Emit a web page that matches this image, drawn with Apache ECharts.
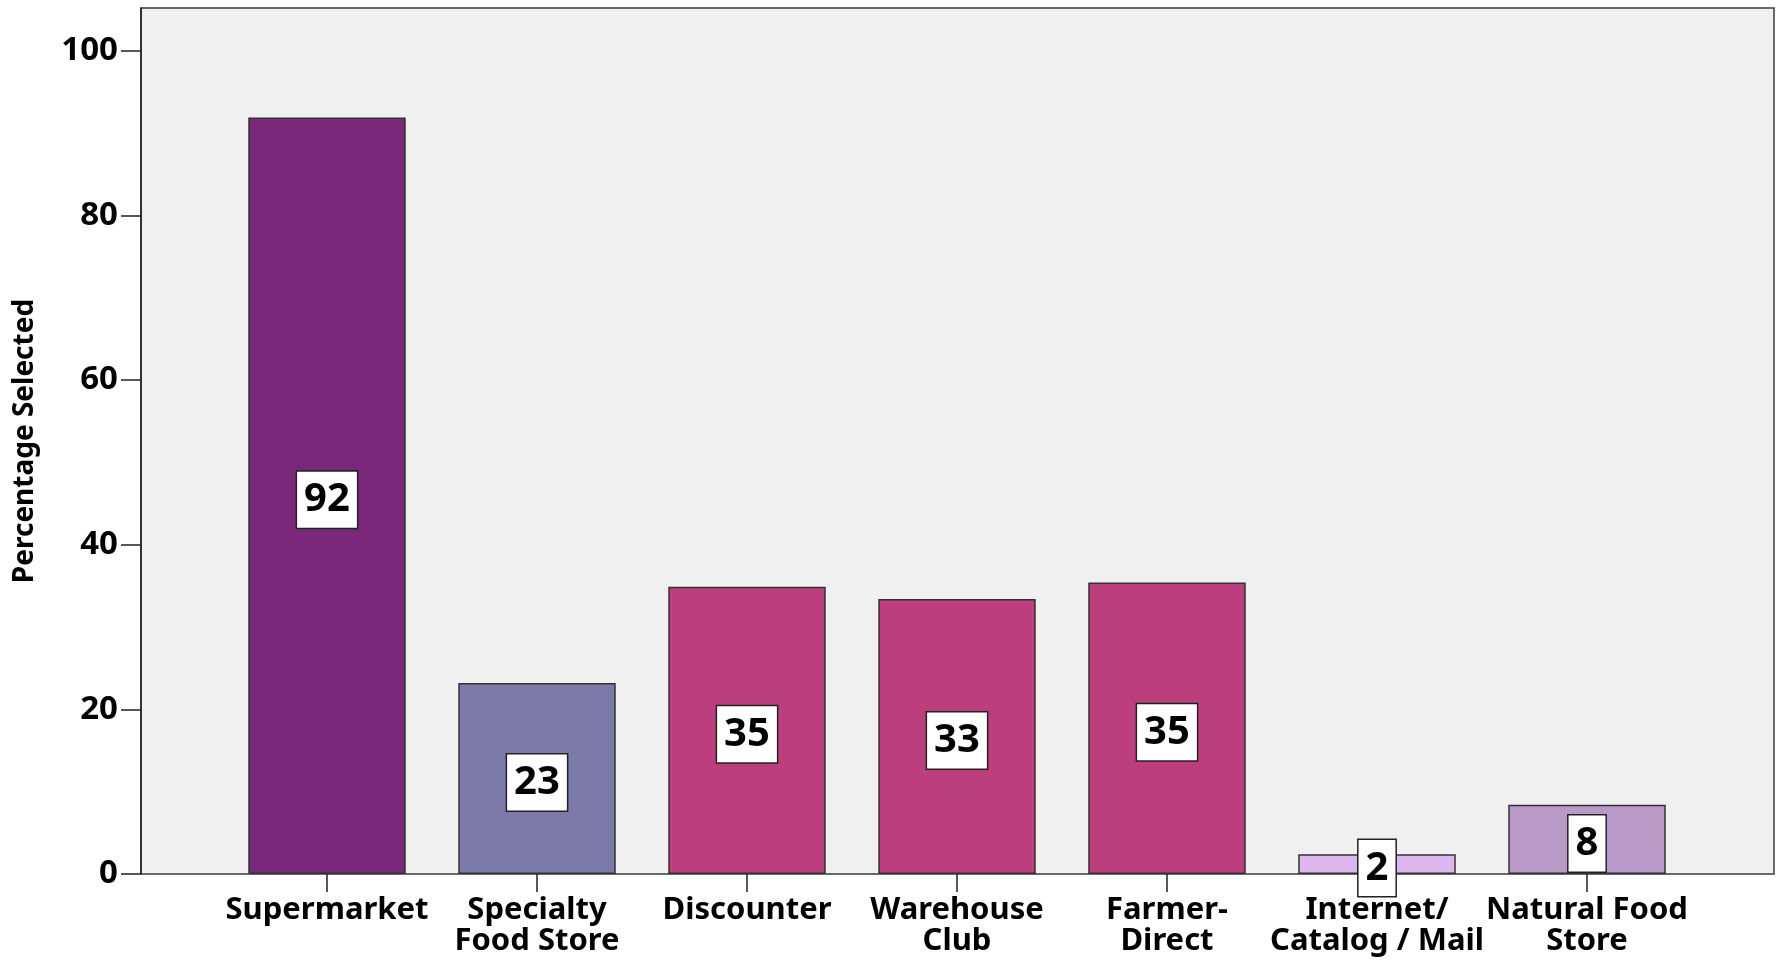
<!DOCTYPE html>
<html style="height: 100%">
<head>
	<meta charset="utf-8">
</head>
<body style="height: 100%; margin: 0; background: #fff">
<div id="container" style="height: 100%"></div>
<script type="text/javascript" src="https://cdn.jsdelivr.net/npm/echarts@6/dist/echarts.min.js"></script>
<script type="text/javascript">
    var categories = ['Supermarket', 'Specialty\nFood Store', 'Discounter', 'Warehouse\nClub',
        'Farmer-\nDirect', 'Internet/\nCatalog / Mail', 'Natural Food\nStore'];
    var values = [91.9, 23.2, 34.9, 33.4, 35.4, 2.4, 8.4];
    var barColors = ['#7b287a', '#7b7aa8', '#bc3e7c', '#bc3e7c', '#bc3e7c', '#ddb6ef', '#b899c8'];
    var yTicks = [0, 20, 40, 60, 80, 100];
    var yMax = 105.2;

    var font = 'Noto Sans';
    var dom = document.getElementById("container");
    var myChart = echarts.init(dom);

    var barData = values.map(function (v, i) {
        return { value: v, itemStyle: { color: barColors[i] } };
    });

    var option = {
        backgroundColor: '#fff',
        animation: false,
        grid: [
            // outer frame, carries the value axis
            { left: 141, right: 9, top: 8, bottom: 89, show: true,
              backgroundColor: '#f0f0f0', borderColor: '#3a3a3a', borderWidth: 1.5 },
            // inner band where the categories sit
            { left: 222, right: 91, top: 8, bottom: 89 }
        ],
        xAxis: [
            { gridIndex: 0, type: 'value', show: false },
            {
                gridIndex: 1,
                type: 'category',
                data: categories,
                axisLine: { show: false },
                axisTick: { show: true, alignWithLabel: true, length: 18,
                    lineStyle: { color: '#222', width: 1.5 } },
                axisLabel: {
                    margin: 21,
                    interval: 0,
                    color: '#000',
                    fontFamily: font,
                    fontWeight: 'bold',
                    fontSize: 31,
                    lineHeight: 31
                }
            }
        ],
        yAxis: [
            {
                gridIndex: 0,
                type: 'value',
                min: 0,
                max: yMax,
                interval: 20,
                name: 'Percentage Selected',
                nameLocation: 'middle',
                nameGap: 102,
                nameTextStyle: { color: '#000', fontFamily: font, fontWeight: 'bold', fontSize: 28 },
                axisLine: { show: true, lineStyle: { color: '#222', width: 1.5 } },
                axisTick: { show: true, length: 20, customValues: yTicks,
                    lineStyle: { color: '#222', width: 1.5 } },
                axisLabel: {
                    margin: 23,
                    customValues: yTicks,
                    color: '#000',
                    fontFamily: font,
                    fontWeight: 'bold',
                    fontSize: 33
                },
                splitLine: { show: false }
            },
            { gridIndex: 1, type: 'value', min: 0, max: yMax, show: false, splitLine: { show: false } }
        ],
        series: [
            {
                type: 'bar',
                xAxisIndex: 1,
                yAxisIndex: 1,
                barWidth: '75%',
                data: barData,
                itemStyle: { borderColor: '#333', borderWidth: 1.5 },
                label: {
                    show: true,
                    position: 'inside',
                    offset: [0, 4],
                    formatter: function (p) { return Math.round(p.value); },
                    color: '#000',
                    fontFamily: font,
                    fontWeight: 'bold',
                    fontSize: 40,
                    lineHeight: 46,
                    backgroundColor: '#fff',
                    borderColor: '#222',
                    borderWidth: 1.5,
                    padding: [9, 7, 1, 7]
                }
            }
        ]
    };

    myChart.setOption(option);
    window.addEventListener('resize', function () {
        myChart.resize();
    });
</script>
</body>
</html>
